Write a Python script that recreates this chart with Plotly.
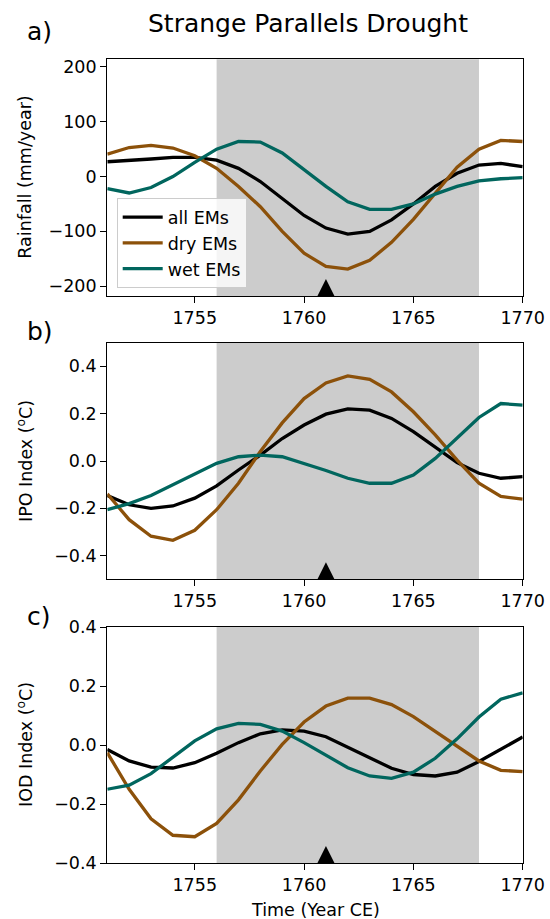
import plotly.graph_objects as go

# ---------------- data ----------------
years = list(range(1751, 1771))

rain_all = [27, 29, 32, 35, 35, 30, 15, -9, -40, -71, -94, -105, -100, -79, -50, -18, 6, 21, 24, 18]
rain_dry = [41, 53, 57, 52, 38, 15, -18, -55, -100, -140, -164, -169, -153, -120, -78, -30, 17, 50, 66, 64]
rain_wet = [-22, -30, -20, 0, 26, 50, 64, 63, 43, 13, -18, -46, -60, -60, -50, -32, -18, -8, -4, -2]

ipo_all = [-0.146, -0.185, -0.2, -0.19, -0.157, -0.105, -0.038, 0.025, 0.095, 0.152,
           0.198, 0.22, 0.215, 0.18, 0.124, 0.06, -0.007, -0.052, -0.073, -0.066]
ipo_dry = [-0.139, -0.248, -0.318, -0.335, -0.293, -0.206, -0.094, 0.04, 0.161, 0.264,
           0.33, 0.36, 0.345, 0.292, 0.208, 0.11, 0.004, -0.094, -0.15, -0.161]
ipo_wet = [-0.206, -0.18, -0.146, -0.1, -0.055, -0.01, 0.018, 0.025, 0.018, -0.01,
           -0.04, -0.073, -0.094, -0.094, -0.059, 0.011, 0.098, 0.184, 0.243, 0.236]

iod_all = [-0.015, -0.054, -0.075, -0.078, -0.06, -0.028, 0.008, 0.038, 0.051, 0.047,
           0.028, -0.006, -0.043, -0.079, -0.1, -0.105, -0.092, -0.056, -0.015, 0.027]
iod_dry = [-0.026, -0.15, -0.25, -0.306, -0.311, -0.266, -0.186, -0.088, 0.002, 0.078,
           0.132, 0.159, 0.159, 0.137, 0.096, 0.047, -0.003, -0.054, -0.086, -0.09]
iod_wet = [-0.15, -0.136, -0.097, -0.043, 0.014, 0.055, 0.073, 0.07, 0.047, 0.008,
           -0.035, -0.077, -0.105, -0.113, -0.092, -0.045, 0.021, 0.095, 0.155, 0.177]

series_names = ["all EMs", "dry EMs", "wet EMs"]
drought_start = 1756
drought_end = 1768
event_year = 1761

title_text = "Strange Parallels Drought"
panel_labels = ["a)", "b)", "c)"]
y_titles = ["Rainfall (mm/year)", "IPO Index (<sup>o</sup>C)", "IOD Index (<sup>o</sup>C)"]
x_title = "Time (Year CE)"

# ---------------- styling ----------------
W, H = 550, 919
FONT = "DejaVu Sans"
FS = 17.5
colors = ["#000000", "#8c510a", "#01665e"]
LW = 3.3

def fx(p):
    return p / W

def fy(p):
    return 1 - p / H

x_dom = [fx(107.3), fx(522.7)]
panel_px = [(59.3, 296.0), (342.7, 579.3), (627.0, 863.0)]
y_ranges = [[-218, 214], [-0.5, 0.5], [-0.4, 0.4]]
y_dticks = [100, 0.2, 0.2]
y_formats = ["d", ".1f", ".1f"]

panels = [
    [rain_all, rain_dry, rain_wet],
    [ipo_all, ipo_dry, ipo_wet],
    [iod_all, iod_dry, iod_wet],
]

fig = go.Figure()
layout_axes = {}
shapes = []
annotations = []

for i, data in enumerate(panels):
    n = "" if i == 0 else str(i + 1)
    xa, ya = "x" + n, "y" + n
    for j, vals in enumerate(data):
        fig.add_trace(go.Scatter(
            x=years, y=vals, mode="lines", name=series_names[j],
            line=dict(color=colors[j], width=LW),
            xaxis=xa, yaxis=ya, showlegend=(i == 0),
            legendgroup=series_names[j],
        ))
    top, bot = panel_px[i]
    axis_common = dict(
        showline=True, linecolor="black", linewidth=1.3, mirror=True,
        ticks="outside", ticklen=6, tickwidth=1.3, tickcolor="black",
        showgrid=False, zeroline=False,
        tickfont=dict(family=FONT, size=FS, color="black"),
    )
    layout_axes["xaxis" + n] = dict(
        domain=x_dom, anchor=ya, range=[years[0], years[-1]],
        tickmode="array", tickvals=[1755, 1760, 1765, 1770],
        **axis_common,
    )
    layout_axes["yaxis" + n] = dict(
        domain=[fy(bot), fy(top)], anchor=xa, range=y_ranges[i],
        dtick=y_dticks[i], tickformat=y_formats[i],
        **axis_common,
    )
    shapes.append(dict(
        type="rect", xref=xa, yref=ya + " domain",
        x0=drought_start, x1=drought_end, y0=0, y1=1,
        fillcolor="#cccccc", line=dict(width=0), layer="below",
    ))
    shapes.append(dict(
        type="path", xref=xa, yref=ya + " domain",
        xsizemode="pixel", ysizemode="pixel",
        xanchor=event_year, yanchor=0,
        path="M-8.5,0 L8.5,0 L0,17 Z",
        fillcolor="black", line=dict(width=0), layer="above",
    ))
    annotations.append(dict(
        text=y_titles[i], xref="paper", yref="paper",
        x=fx(25), y=fy((top + bot) / 2), xanchor="center", yanchor="middle",
        textangle=-90, showarrow=False,
        font=dict(family=FONT, size=FS, color="black"),
    ))

panel_label_y = [31, 331, 616]
for i, lab in enumerate(panel_labels):
    annotations.append(dict(
        text=lab, xref="paper", yref="paper",
        x=fx(25), y=fy(panel_label_y[i]), xanchor="left", yanchor="middle",
        showarrow=False, font=dict(family=FONT, size=25, color="black"),
    ))

annotations.append(dict(
    text=title_text, xref="paper", yref="paper",
    x=fx(307.5), y=fy(24), xanchor="center", yanchor="middle",
    showarrow=False, font=dict(family=FONT, size=25, color="black"),
))
annotations.append(dict(
    text=x_title, xref="paper", yref="paper",
    x=fx(315), y=fy(910), xanchor="center", yanchor="middle",
    showarrow=False, font=dict(family=FONT, size=FS, color="black"),
))

fig.update_layout(
    width=W, height=H, autosize=False,
    margin=dict(l=0, r=0, t=0, b=0, autoexpand=False),
    paper_bgcolor="white", plot_bgcolor="white",
    font=dict(family=FONT, size=FS, color="black"),
    showlegend=True,
    legend=dict(
        x=fx(116.7), y=fy(198.3), xanchor="left", yanchor="top",
        bgcolor="rgba(255,255,255,0.8)", bordercolor="#cccccc", borderwidth=1,
        font=dict(family=FONT, size=FS, color="black"),
        tracegroupgap=0, itemwidth=40,
    ),
    shapes=shapes,
    annotations=annotations,
    **layout_axes,
)

fig.write_html(
    "out.html",
    config={"displayModeBar": False},
    post_script="document.body.style.margin='0';document.body.style.overflow='hidden';",
)
